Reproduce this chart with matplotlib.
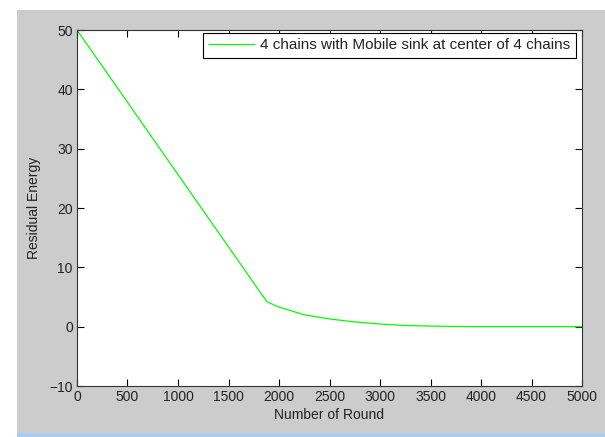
import numpy as np
import matplotlib.pyplot as plt
from matplotlib.patches import Rectangle

plt.rcParams['font.family'] = ['Liberation Sans', 'DejaVu Sans']

# residual energy
rounds = [0, 1880, 2000, 2250, 2500, 2750, 3000, 3250, 3500, 3750, 4000, 4500, 5000]
energy = [50, 4.2, 3.3, 2.0, 1.3, 0.8, 0.45, 0.2, 0.1, 0.03, 0.0, 0.0, 0.0]
serie_label = '4 chains with Mobile sink at center of 4 chains'

xticks = [0, 500, 1000, 1500, 2000, 2500, 3000, 3500, 4000, 4500, 5000]
yticks = [-10, 0, 10, 20, 30, 40, 50]

fig = plt.figure(figsize=(6.05, 4.37), dpi=100, facecolor='white')
# fondo gris tipo figura de MATLAB
fig.patches.append(Rectangle((17/605, 4/437), 1 - 17/605, 423/437, transform=fig.transFigure,
                             facecolor='#cccccc', edgecolor='none', zorder=-2))
fig.patches.append(Rectangle((17/605, 0), 1 - 17/605, 4/437, transform=fig.transFigure,
                             facecolor='#a9cdf0', edgecolor='none', zorder=-2))

ax = fig.add_axes([77/605, 51/437, 505/605, 356/437])
ax.plot(rounds, energy, color='#00ff00', lw=0.9, label=serie_label)
ax.set_xlim(0, 5000)
ax.set_ylim(-10, 50)
ax.set_xticks(xticks)
ax.set_yticks(yticks)
ax.tick_params(direction='in', length=5, width=0.8, top=True, right=True, labelsize=10,
               pad=3, labelcolor='#222222')
for s in ax.spines.values():
    s.set_linewidth(0.8)
    s.set_color('#333333')
ax.set_xlabel('Number of Round', fontsize=10, labelpad=3, color='#222222')
ax.set_ylabel('Residual Energy', fontsize=10, labelpad=6, color='#222222')
leg = ax.legend(loc='upper right', bbox_to_anchor=(0.988, 0.992), fontsize=11, fancybox=False,
                edgecolor='black', framealpha=1, handlelength=3.0, handletextpad=0.4,
                borderaxespad=0, borderpad=0.35)
leg.get_frame().set_linewidth(0.8)
for t in leg.get_texts():
    t.set_color('#222222')

plt.savefig('out.png', dpi=100)
